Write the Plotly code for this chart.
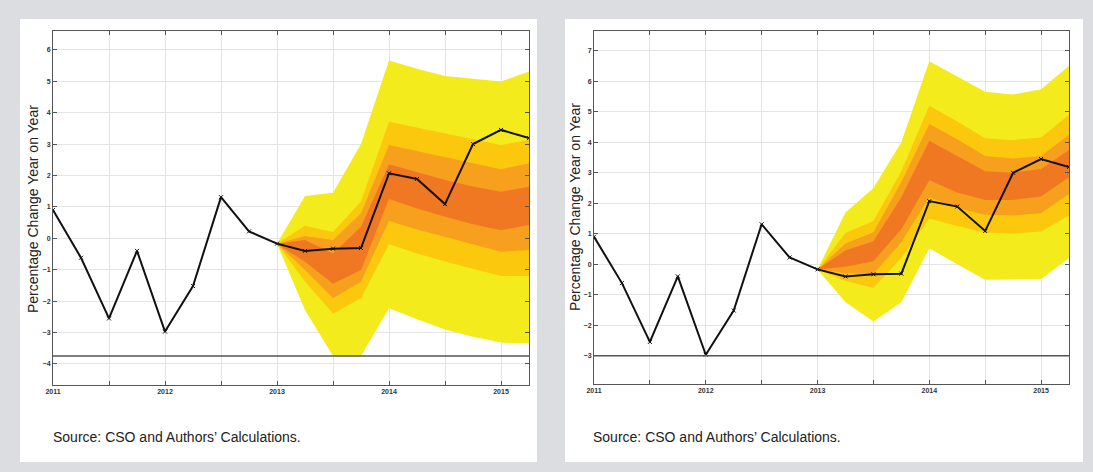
import plotly.graph_objects as go

# ---------------- data ----------------
quarters = [2011.0, 2011.25, 2011.5, 2011.75, 2012.0, 2012.25, 2012.5, 2012.75,
            2013.0, 2013.25, 2013.5, 2013.75, 2014.0, 2014.25, 2014.5, 2014.75,
            2015.0, 2015.25]
actual = [0.90, -0.62, -2.55, -0.40, -2.97, -1.52, 1.31, 0.22,
          -0.17, -0.40, -0.33, -0.31, 2.07, 1.89, 1.09, 3.00, 3.45, 3.19]

fan_x = [2013.0, 2013.25, 2013.5, 2013.75, 2014.0, 2014.25, 2014.5, 2014.75, 2015.0, 2015.25]

# left chart fan bounds (outer -> inner)
L_yel_hi = [-0.17, 1.35, 1.45, 3.00, 5.66, 5.40, 5.17, 5.08, 4.99, 5.31]
L_gld_hi = [-0.17, 0.40, 0.20, 1.17, 3.71, 3.52, 3.34, 3.15, 2.97, 3.13]
L_org_hi = [-0.17, 0.07, -0.05, 0.80, 2.97, 2.78, 2.58, 2.38, 2.20, 2.39]
L_drk_hi = [-0.17, -0.05, -0.48, 0.37, 2.36, 2.10, 1.86, 1.65, 1.48, 1.64]
L_drk_lo = [-0.17, -0.75, -1.45, -1.01, 1.25, 0.95, 0.69, 0.45, 0.26, 0.42]
L_org_lo = [-0.17, -1.01, -1.91, -1.38, 0.55, 0.28, 0.05, -0.20, -0.43, -0.37]
L_gld_lo = [-0.17, -1.38, -2.39, -1.91, -0.19, -0.48, -0.74, -0.98, -1.20, -1.20]
L_yel_lo = [-0.17, -2.28, -3.75, -3.75, -2.23, -2.58, -2.90, -3.13, -3.32, -3.35]

# right chart fan bounds
R_yel_hi = [-0.17, 1.70, 2.50, 4.00, 6.66, 6.15, 5.66, 5.57, 5.74, 6.50]
R_gld_hi = [-0.17, 1.02, 1.42, 3.05, 5.20, 4.68, 4.13, 4.07, 4.16, 4.90]
R_org_hi = [-0.17, 0.68, 1.05, 2.70, 4.60, 4.10, 3.55, 3.47, 3.55, 4.25]
R_drk_hi = [-0.17, 0.45, 0.75, 2.20, 4.05, 3.55, 3.05, 3.00, 3.12, 3.75]
R_drk_lo = [-0.17, -0.08, 0.10, 1.15, 2.75, 2.35, 2.11, 2.11, 2.22, 2.85]
R_org_lo = [-0.17, -0.30, -0.32, 0.72, 2.20, 1.85, 1.62, 1.60, 1.67, 2.30]
R_gld_lo = [-0.17, -0.55, -0.78, 0.20, 1.50, 1.25, 1.04, 1.00, 1.07, 1.60]
R_yel_lo = [-0.17, -1.25, -1.88, -1.25, 0.52, 0.00, -0.51, -0.51, -0.49, 0.20]

left_floor = -3.75
right_floor = -3.0

x_ticks = [2011, 2011.5, 2012, 2012.5, 2013, 2013.5, 2014, 2014.5, 2015]
x_labels = ["2011", "", "2012", "", "2013", "", "2014", "", "2015"]
left_yticks = [-4, -3, -2, -1, 0, 1, 2, 3, 4, 5, 6]
right_yticks = [-3, -2, -1, 0, 1, 2, 3, 4, 5, 6, 7]

y_title = "Percentage Change Year on Year"
source_text = "Source: CSO and Authors’ Calculations."

# ---------------- styling ----------------
W, H = 1093, 472
C_YEL = "#f4eb1d"
C_GLD = "#fcc80e"
C_ORG = "#f7a01e"
C_DRK = "#f17823"
FONT = "Liberation Sans, Arial, sans-serif"

fig = go.Figure()


def add_panel(xa, ya, bands):
    for lo, hi, col in bands:
        fig.add_trace(go.Scatter(
            x=fan_x + fan_x[::-1], y=hi + lo[::-1],
            fill="toself", fillcolor=col, mode="lines",
            line=dict(width=0, color=col), hoverinfo="skip",
            showlegend=False, xaxis=xa, yaxis=ya))
    fig.add_trace(go.Scatter(
        x=quarters, y=actual, mode="lines+markers",
        line=dict(color="#111111", width=2),
        marker=dict(symbol="x-thin", size=4, line=dict(width=1, color="#111111"), color="#111111"),
        showlegend=False, xaxis=xa, yaxis=ya))


add_panel("x", "y", [(L_yel_lo, L_yel_hi, C_YEL), (L_gld_lo, L_gld_hi, C_GLD),
                     (L_org_lo, L_org_hi, C_ORG), (L_drk_lo, L_drk_hi, C_DRK)])
add_panel("x2", "y2", [(R_yel_lo, R_yel_hi, C_YEL), (R_gld_lo, R_gld_hi, C_GLD),
                       (R_org_lo, R_org_hi, C_ORG), (R_drk_lo, R_drk_hi, C_DRK)])

axis_common = dict(showline=True, linecolor="#555555", linewidth=1, mirror="ticks",
                   ticks="inside", ticklen=4, tickcolor="#555555", automargin=False,
                   showgrid=True, gridcolor="#e4e4e4", gridwidth=1, zeroline=False,
                   tickfont=dict(family=FONT, size=7, color="#333333", weight="bold"))

xr = [2011.0, 2015.25]
fig.update_layout(
    width=W, height=H, margin=dict(l=0, r=0, t=0, b=0, pad=0), autosize=False,
    paper_bgcolor="#dcdde0", plot_bgcolor="#ffffff",
    xaxis=dict(domain=[53 / W, 529 / W], range=xr, tickvals=x_ticks, ticktext=x_labels,
               anchor="y", **axis_common),
    yaxis=dict(domain=[1 - 385 / H, 1 - 31 / H], range=[-4.67, 6.6], tickvals=left_yticks,
               anchor="x", **axis_common),
    xaxis2=dict(domain=[594 / W, 1069 / W], range=xr, tickvals=x_ticks, ticktext=x_labels,
                anchor="y2", **axis_common),
    yaxis2=dict(domain=[1 - 384 / H, 1 - 31 / H], range=[-3.93, 7.65], tickvals=right_yticks,
                anchor="x2", **axis_common),
    showlegend=False,
)

# white panels
for x0, x1 in [(20, 537), (565, 1083)]:
    fig.add_shape(type="rect", xref="paper", yref="paper",
                  x0=x0 / W, x1=x1 / W, y0=1 - 462 / H, y1=1 - 19 / H,
                  fillcolor="#ffffff", line=dict(width=0), layer="below")

# floor lines
fig.add_shape(type="line", xref="x domain", yref="y", x0=0, x1=1, y0=left_floor, y1=left_floor,
              line=dict(color="#555555", width=1.5), layer="above")
fig.add_shape(type="line", xref="x2 domain", yref="y2", x0=0, x1=1, y0=right_floor, y1=right_floor,
              line=dict(color="#555555", width=1.5), layer="above")

# titles and sources
for xt, xs, yc in [(33, 51, 209), (575, 591, 207)]:
    fig.add_annotation(text=y_title, xref="paper", yref="paper", x=xt / W, y=1 - yc / H,
                       textangle=-90, showarrow=False, xanchor="center", yanchor="middle",
                       font=dict(family=FONT, size=14, color="#222222"))
    fig.add_annotation(text=source_text, xref="paper", yref="paper", x=xs / W, y=1 - 437 / H,
                       showarrow=False, xanchor="left", yanchor="middle",
                       font=dict(family=FONT, size=14, color="#222222"))

fig.write_html(
    "out.html",
    config={"displayModeBar": False, "staticPlot": True},
    post_script="document.body.style.margin='0';document.body.style.padding='0';"
                "document.documentElement.style.overflow='hidden';",
)
